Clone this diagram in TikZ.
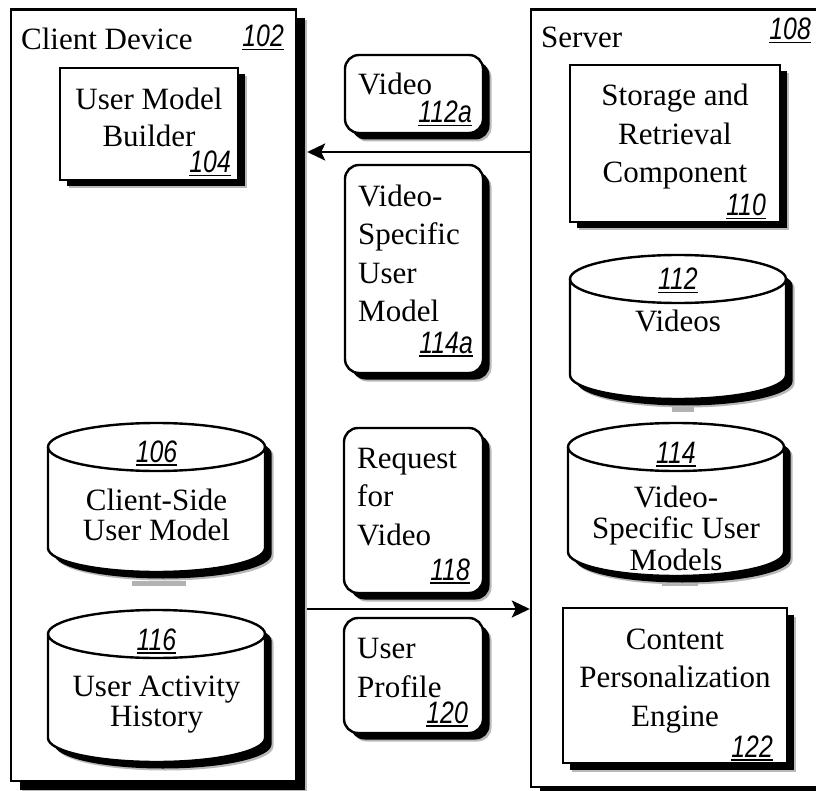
\documentclass[tikz,border=0pt]{standalone}
\usepackage{fontspec}
\setmainfont{Liberation Serif}
\newfontfamily\numfont[FakeStretch=0.8]{Liberation Sans}
\usetikzlibrary{arrows.meta,shadows}

% underlined italic reference numeral
\newsavebox\refbox
\newcommand\refnum[1]{\sbox\refbox{\numfont\itshape #1}\leavevmode\rlap{\rule[-3.5pt]{\wd\refbox}{1.8pt}}\usebox\refbox}

% drum (cylinder) store: #1 name, #2 left x, #3 right x, #4 top centre y, #5 bottom centre y
\newcommand\drum[5]{%
  \pgfmathsetmacro\drumrx{(#3-#2)/2}%
  \def\drumpath{(#2,#4) -- (#2,#5) arc[start angle=180,end angle=360,x radius=\drumrx pt,y radius=24pt] -- (#3,#4) arc[start angle=0,end angle=180,x radius=\drumrx pt,y radius=24pt] -- cycle}%
  \fill[gray!55,shift={(8.5,8.5)}] \drumpath;
  \fill[black,shift={(6.5,6.5)}] \drumpath;
  \draw[line width=2.4pt,fill=white] \drumpath;
  \draw[line width=2.4pt] (#2,#4) arc[start angle=180,end angle=360,x radius=\drumrx pt,y radius=24pt];
  \coordinate (#1) at ({(#2+#3)/2},#4);
}

\begin{document}
\begin{tikzpicture}[x=1pt,y=-1pt,
  shade2/.style={general shadow={shadow xshift=8.5pt,shadow yshift=-8.5pt,fill=gray!55},
                 general shadow={shadow xshift=6.5pt,shadow yshift=-6.5pt,fill=black}},
  frameshade/.style={general shadow={shadow xshift=11pt,shadow yshift=-11pt,fill=gray!55},
                 general shadow={shadow xshift=9pt,shadow yshift=-9pt,fill=black}},
  frame/.style={draw,line width=2.4pt,fill=white,inner sep=0pt},
  sqbox/.style={draw,line width=2.4pt,fill=white,inner sep=0pt,shade2},
  rbox/.style={sqbox,rounded corners=14pt},
  txt/.style={inner sep=0pt,font=\fontsize{31}{38.5}\selectfont},
  drumtxt/.style={inner sep=0pt,font=\fontsize{31}{29.5}\selectfont,align=center,anchor=base},
  conn/.style={line width=2.4pt,-{Stealth[length=18pt,width=17pt,inset=4pt]}}]
\useasboundingbox (0,0) rectangle (816,791);

% outer frames
\node[frame,frameshade,minimum width=285pt,minimum height=771.5pt] (client) at (153.5,395.25) {};
\node[frame,frameshade,minimum width=309pt,minimum height=777.5pt] (server) at (685.5,398.25) {};

\node[txt,anchor=base west] (clientlbl) at (21,50) {Client Device};
\node[txt,anchor=base east] (clientnum) at (284,47) {\refnum{102}};
\node[txt,anchor=base west] (serverlbl) at (541,48) {Server};
\node[txt,anchor=base east] (servernum) at (811,40) {\refnum{108}};

% client components (multi-line texts are placed by their last baseline)
\node[sqbox,minimum width=178pt,minimum height=112pt] (umb) at (149,124) {};
\node[txt,align=center,anchor=base,font=\fontsize{31}{37}\selectfont] (umbt) at (149,147) {User Model\\Builder};
\node[txt,anchor=base east] (umbn) at (231,173) {\refnum{104}};

\fill[gray!60] (132,581) rectangle (186,586);
\drum{csum}{48}{265}{447}{548}
\node[drumtxt] (csumn) at (156.5,462) {\refnum{106}};
\node[drumtxt] (csumt) at (156.5,540) {Client-Side\\User Model};

\drum{uah}{48}{265}{634}{738}
\node[drumtxt] (uahn) at (156.5,650) {\refnum{116}};
\node[drumtxt] (uaht) at (156.5,726) {User Activity\\History};

% server components
\node[sqbox,minimum width=210pt,minimum height=157pt] (sr) at (675,143.5) {};
\node[txt,align=center,anchor=base] (srt) at (675,183) {Storage and\\Retrieval\\Component};
\node[txt,anchor=base east] (srn) at (766,216) {\refnum{110}};

\fill[gray!60] (672,405) rectangle (694,412);
\drum{vids}{570}{786}{279}{375}
\node[drumtxt] (vidsn) at (678,290) {\refnum{112}};
\node[drumtxt] (vidst) at (678,332) {Videos};

\fill[gray!60] (662,580) rectangle (698,586);
\drum{vsum}{568}{784}{447}{552}
\node[drumtxt] (vsumn) at (676,463) {\refnum{114}};
\node[drumtxt,font=\fontsize{31}{31.5}\selectfont] (vsumt) at (676,570) {Video-\\Specific User\\Models};

\node[sqbox,minimum width=224pt,minimum height=155pt] (cpe) at (675,685.5) {};
\node[txt,align=center,anchor=base] (cpet) at (675,726) {Content\\Personalization\\Engine};
\node[txt,anchor=base east] (cpen) at (773,757) {\refnum{122}};

% messages
\node[rbox,minimum width=138pt,minimum height=78pt] (vid) at (414,94) {};
\node[txt,anchor=base west] (vidt) at (358,95) {Video};
\node[txt,anchor=base east] (vidn) at (472,123) {\refnum{112a}};

\node[rbox,minimum width=138pt,minimum height=208pt] (vsm) at (414,269) {};
\node[txt,align=left,anchor=base west] (vsmt) at (358,322) {Video-\\Specific\\User\\Model};
\node[txt,anchor=base east] (vsmn) at (473,353) {\refnum{114a}};

\node[rbox,minimum width=139pt,minimum height=165pt] (req) at (413.5,510.5) {};
\node[txt,align=left,anchor=base west] (reqt) at (357,545) {Request\\for\\Video};
\node[txt,anchor=base east] (reqn) at (470,580) {\refnum{118}};

\node[rbox,minimum width=139pt,minimum height=115pt] (prof) at (413.5,675.5) {};
\node[txt,align=left,anchor=base west] (proft) at (357,697) {User\\Profile};
\node[txt,anchor=base east] (profn) at (468,723) {\refnum{120}};

% transfers between client and server
\coordinate (downrow) at (0,152);
\coordinate (uprow) at (0,609);
\draw[conn] (server.west |- downrow) -- ([xshift=10pt]client.east |- downrow);
\draw[conn] ([xshift=10pt]client.east |- uprow) -- (server.west |- uprow);
\end{tikzpicture}
\end{document}
